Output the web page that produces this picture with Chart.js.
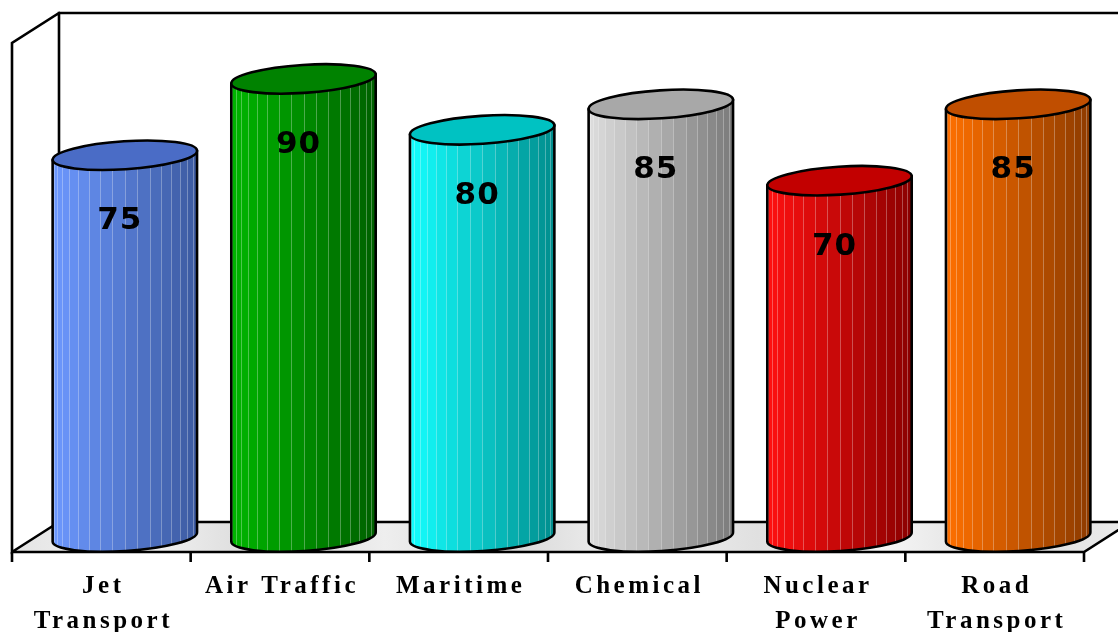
<!DOCTYPE html>
<html>
<head>
<meta charset="utf-8">
<script src="https://cdn.jsdelivr.net/npm/chart.js@4"></script>
<style>
  html, body { margin: 0; padding: 0; background: #ffffff; }
  canvas { display: block; }
</style>
</head>
<body>
<canvas id="c" width="1118" height="632"></canvas>
<script>
// Sector categories (multi-line labels) and their scores
const categories = [["Jet", "Transport"], ["Air Traffic"], ["Maritime"], ["Chemical"], ["Nuclear", "Power"], ["Road", "Transport"]];
const values = [75, 90, 80, 85, 70, 85];
const axisMin = 0;
const axisMax = 100;

// Cylinder palettes: lit side, shaded side, lid
const palettes = [
  { light: [108, 152, 255], dark: [60, 90, 160], top: '#4a6cc6' },
  { light: [0, 182, 0], dark: [0, 96, 0], top: '#008200' },
  { light: [20, 255, 255], dark: [0, 140, 140], top: '#00c2c2' },
  { light: [222, 222, 222], dark: [122, 122, 122], top: '#a8a8a8' },
  { light: [255, 16, 16], dark: [138, 0, 0], top: '#c20000' },
  { light: [255, 112, 0], dark: [140, 58, 0], top: '#c04e00' }
];

// oblique depth of the 3D box
const DX = 47, DY = -30;

function mix(a, b, t) {
  return 'rgb(' + a.map((v, i) => Math.round(v + (b[i] - v) * t)).join(',') + ')';
}

function drawCylinder(ctx, cx, yt, yb, r, pal) {
  const ry = 14, rot = -0.065;
  const c = Math.cos(rot), s = Math.sin(rot);
  const body = new Path2D();
  body.moveTo(cx + r * c, yt + r * s);
  body.lineTo(cx + r * c, yb + r * s);
  body.ellipse(cx, yb, r, ry, rot, 0, Math.PI, false);
  body.lineTo(cx - r * c, yt - r * s);
  body.closePath();

  ctx.save();
  ctx.clip(body);
  const N = 18;
  const edges = [];
  for (let k = 0; k <= N; k++) edges.push(Math.round(cx - r * Math.cos(Math.PI * k / N)));
  edges[0] -= 3; edges[N] += 3;
  for (let k = 0; k < N; k++) {
    const t = ((edges[k] + edges[k + 1]) / 2 - (cx - r)) / (2 * r);
    ctx.fillStyle = mix(pal.light, pal.dark, Math.min(1, Math.max(0, t)));
    ctx.fillRect(edges[k], yt - 30, edges[k + 1] - edges[k], yb - yt + 60);
  }
  ctx.fillStyle = 'rgba(255,255,255,0.3)';
  for (let k = 1; k < N; k++) {
    ctx.fillRect(edges[k], yt - 30, 1, yb - yt + 60);
  }
  ctx.restore();

  ctx.lineWidth = 2.6;
  ctx.strokeStyle = '#000';
  ctx.lineJoin = 'round';
  ctx.stroke(body);

  ctx.beginPath();
  ctx.ellipse(cx, yt, r, ry, rot, 0, Math.PI * 2);
  ctx.fillStyle = pal.top;
  ctx.fill();
  ctx.stroke();
}

const boxPlugin = {
  id: 'box3d',
  beforeDatasetsDraw(chart) {
    const ctx = chart.ctx, a = chart.chartArea;
    const y0 = chart.scales.y.getPixelForValue(axisMin);
    const yTop = chart.scales.y.getPixelForValue(axisMax);
    ctx.save();
    // floor
    const floor = new Path2D();
    floor.moveTo(a.left, y0);
    floor.lineTo(a.right, y0);
    floor.lineTo(a.right + DX, y0 + DY);
    floor.lineTo(a.left + DX, y0 + DY);
    floor.closePath();
    const g = ctx.createLinearGradient(a.left, y0, a.right + DX, y0 + DY);
    const tones = ['#e4e4e4', '#f4f4f4', '#dadada', '#eeeeee', '#d8d8d8', '#f2f2f2', '#e0e0e0', '#f6f6f6', '#dcdcdc', '#ececec'];
    tones.forEach((col, i) => g.addColorStop(i / (tones.length - 1), col));
    ctx.fillStyle = g;
    ctx.fill(floor);

    ctx.strokeStyle = '#000';
    ctx.lineWidth = 2.6;
    ctx.lineCap = 'square';
    ctx.beginPath();
    // back wall
    ctx.moveTo(a.right + DX + 20, yTop + DY);
    ctx.lineTo(a.left + DX, yTop + DY);
    ctx.lineTo(a.left + DX, y0 + DY);
    ctx.lineTo(a.right + DX, y0 + DY);
    // left wall
    ctx.moveTo(a.left + DX, yTop + DY);
    ctx.lineTo(a.left, yTop);
    ctx.lineTo(a.left, y0);
    ctx.lineTo(a.left + DX, y0 + DY);
    // front floor edge
    ctx.moveTo(a.left, y0);
    ctx.lineTo(a.right, y0);
    ctx.lineTo(a.right + DX, y0 + DY);
    ctx.stroke();

    // category ticks
    const n = categories.length;
    const step = (a.right - a.left) / n;
    ctx.beginPath();
    for (let i = 0; i <= n; i++) {
      const x = a.left + i * step;
      ctx.moveTo(x, y0);
      ctx.lineTo(x, y0 + 10);
    }
    ctx.lineCap = 'butt';
    ctx.stroke();
    ctx.restore();
  },
  afterDatasetsDraw(chart) {
    const ctx = chart.ctx;
    const meta = chart.getDatasetMeta(0);
    const y0 = chart.scales.y.getPixelForValue(axisMin);
    ctx.save();
    meta.data.forEach((bar, i) => {
      const cx = bar.x + DX / 2;
      const yt = bar.y + DY / 2;
      const yb = y0 + DY / 2;
      drawCylinder(ctx, cx, yt, yb, bar.width / 2, palettes[i]);
      ctx.fillStyle = '#000';
      ctx.font = 'bold 31px "DejaVu Sans"';
      ctx.textAlign = 'center';
      ctx.textBaseline = 'alphabetic';
      ctx.letterSpacing = '1px';
      ctx.fillText(String(values[i]), cx - 5, yt + 74);
    });
    // category labels
    ctx.font = 'bold 25px "Liberation Serif"';
    ctx.letterSpacing = '3.5px';
    ctx.fillStyle = '#000';
    ctx.textAlign = 'center';
    categories.forEach((lines, i) => {
      const x = chart.scales.x.getPixelForValue(i) + 2;
      lines.forEach((ln, j) => ctx.fillText(ln, x, 593 + j * 35));
    });
    ctx.restore();
  }
};

new Chart(document.getElementById('c'), {
  type: 'bar',
  data: {
    labels: categories,
    datasets: [{
      data: values,
      backgroundColor: 'rgba(0,0,0,0)',
      borderWidth: 0,
      categoryPercentage: 1,
      barPercentage: 0.81
    }]
  },
  options: {
    responsive: false,
    animation: false,
    layout: { padding: { left: 12, right: 34, top: 43, bottom: 80 } },
    scales: {
      x: { display: false },
      y: { display: false, min: axisMin, max: axisMax }
    },
    plugins: { legend: { display: false }, tooltip: { enabled: false } }
  },
  plugins: [boxPlugin]
});
</script>
</body>
</html>
